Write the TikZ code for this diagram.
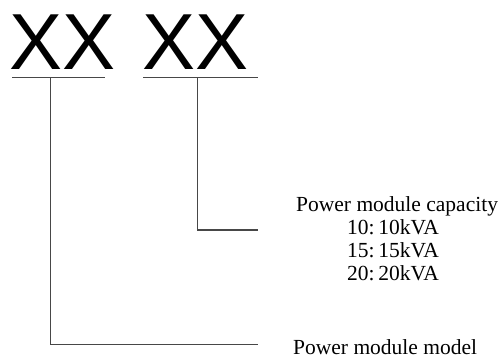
\documentclass[tikz,border=0pt]{standalone}
\usepackage{fontspec}
\setmainfont{Liberation Serif}
\newfontfamily\arialfont{Liberation Sans}
\begin{document}
\begin{tikzpicture}[x=1pt,y=-1pt,
  codetext/.style={inner sep=0pt,anchor=base west,font=\arialfont\fontsize{79.5}{80}\selectfont},
  lbl/.style={inner sep=0pt,text depth=0pt,font=\fontsize{21.5}{23}\selectfont},
  conn/.style={draw=black!72,line width=1.1pt}]
\useasboundingbox (0,0) rectangle (502,358);
\node[codetext] (x1) at (9,70) {XX};
\node[codetext] (x2) at (142,70) {XX};
% underlines
\coordinate (u1a) at (12,77.3);
\coordinate (u1b) at (105,77.3);
\coordinate (u2a) at (143,77.3);
\coordinate (u2b) at (258,77.3);
\draw[conn] (u1a) -- (u1b);
\draw[conn] (u2a) -- (u2b);
% labels
\node[lbl,anchor=base west] (cap) at (296,211) {Power module capacity};
\node[lbl,anchor=base] (c10) at (393,234) {10:\,10kVA};
\node[lbl,anchor=base] (c15) at (393,257) {15:\,15kVA};
\node[lbl,anchor=base] (c20) at (393,280) {20:\,20kVA};
\node[lbl,anchor=base west] (model) at (293,354.5) {Power module model};
% connectors
\coordinate (v1) at (50.7,77.3);
\coordinate (v2) at (197.5,77.3);
\coordinate (e1) at (258,344.5);
\coordinate (e2) at (258,230);
\draw[conn] (v1) |- (e1);
\draw[conn] (v2) |- (e2);
\end{tikzpicture}
\end{document}
